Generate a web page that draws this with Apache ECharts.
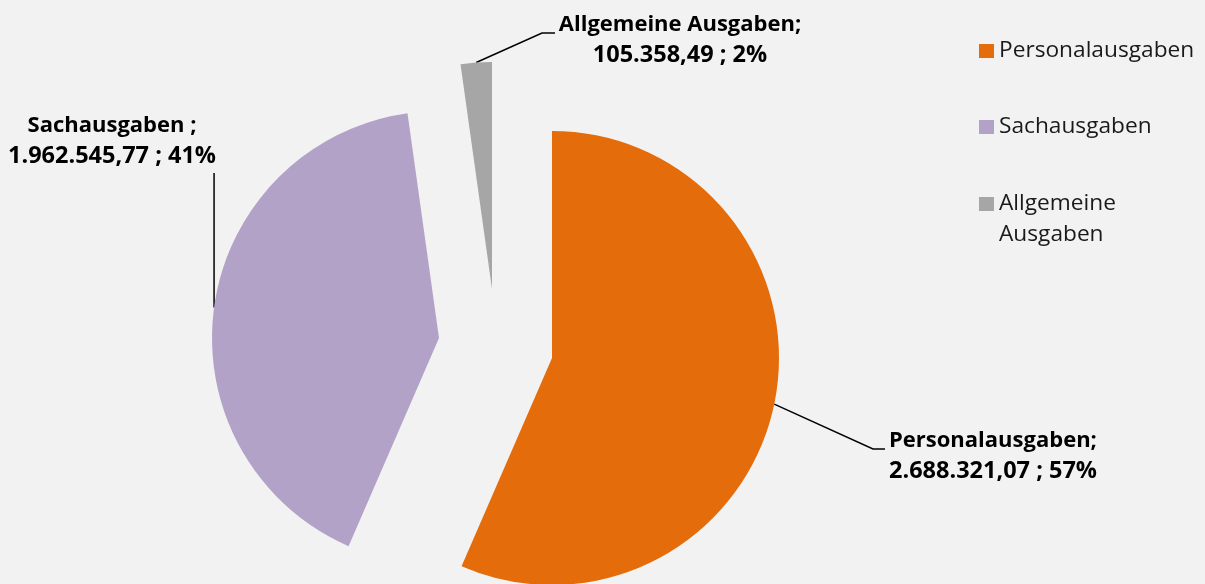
<!DOCTYPE html>
<html>
<head>
<meta charset="utf-8">
<script src="https://cdn.jsdelivr.net/npm/echarts@6/dist/echarts.min.js"></script>
<style>
html,body{margin:0;padding:0;background:#f2f2f2;}
#c{width:1205px;height:584px;}
</style>
</head>
<body>
<div id="c"></div>
<script>
const categories = ['Personalausgaben', 'Sachausgaben', 'Allgemeine Ausgaben'];
const values = [2688321.07, 1962545.77, 105358.49];
const labelNames = ['Personalausgaben;', 'Sachausgaben ;', 'Allgemeine Ausgaben;'];
const colors = ['#E46C0A', '#B3A2C7', '#A6A6A6'];

function de(v) {
  const parts = v.toFixed(2).split('.');
  return parts[0].replace(/\B(?=(\d{3})+(?!\d))/g, '.') + ',' + parts[1];
}

const FONT = 'Open Sans';
const centers = [[552, 358], [439, 338], [492, 289]];
const labelPos = [
  {x: 889, y: 456, align: 'left'},
  {x: 112, y: 141, align: 'center'},
  {x: 680, y: 40, align: 'center'}
];

function lineFor(k, s, lp) {
  if (k === 0) return [s, [lp.x - 16, lp.y - 7], [lp.x - 4, lp.y - 7]];
  if (k === 1) return [s, [s[0], lp.y + 32], [s[0], lp.y + 32]];
  return [s, [542, lp.y - 7], [555, lp.y - 7]];
}

const series = categories.map(function (_, k) {
  return {
    type: 'pie',
    center: centers[k],
    radius: 227,
    startAngle: 90,
    clockwise: true,
    avoidLabelOverlap: false,
    silent: true,
    animation: false,
    emphasis: {disabled: true},
    data: categories.map(function (name, i) {
      const own = i === k;
      return {
        name: name,
        value: values[i],
        itemStyle: {color: own ? colors[i] : 'rgba(0,0,0,0)'},
        label: {show: own},
        labelLine: {show: own}
      };
    }),
    label: {
      position: 'outside',
      fontFamily: FONT,
      fontWeight: 'bold',
      fontSize: 22,
      lineHeight: 31,
      color: '#000',
      formatter: function (p) {
        return '{a|' + labelNames[p.dataIndex] + '}\n{b|' + de(p.value) + ' ; ' + Math.round(p.percent) + '%}';
      },
      rich: {
        a: {fontFamily: FONT, fontWeight: 'bold', fontSize: 22, lineHeight: 31, color: '#000'},
        b: {fontFamily: FONT, fontWeight: 'bold', fontSize: 23.5, lineHeight: 31, color: '#000'}
      }
    },
    labelLine: {show: true, length: 10, length2: 10, lineStyle: {color: '#000', width: 1.5}},
    labelLayout: function (p) {
      if (p.dataIndex !== k || !p.labelLinePoints) return {};
      const lp = labelPos[k];
      const s = p.labelLinePoints[0];
      return {
        x: lp.x, y: lp.y, align: lp.align, verticalAlign: 'middle',
        labelLinePoints: lineFor(k, s, lp)
      };
    }
  };
});

const legendTops = [35.5, 111.5, 157.5];
const legend = categories.map(function (name, i) {
  return {
    left: 979,
    top: legendTops[i],
    orient: 'vertical',
    padding: 0,
    icon: 'rect',
    itemWidth: 15,
    itemHeight: 14,
    itemGap: 10,
    selectedMode: false,
    data: [{name: name, itemStyle: {color: colors[i]}}],
    formatter: function (n) { return n === 'Allgemeine Ausgaben' ? ' \nAllgemeine\nAusgaben' : n; },
    textStyle: {fontFamily: FONT, fontSize: 22.7, lineHeight: 31, color: '#1a1a1a'}
  };
});

const chart = echarts.init(document.getElementById('c'), null, {renderer: 'canvas'});
chart.setOption({
  backgroundColor: '#f2f2f2',
  animation: false,
  legend: legend,
  series: series
});
</script>
</body>
</html>
